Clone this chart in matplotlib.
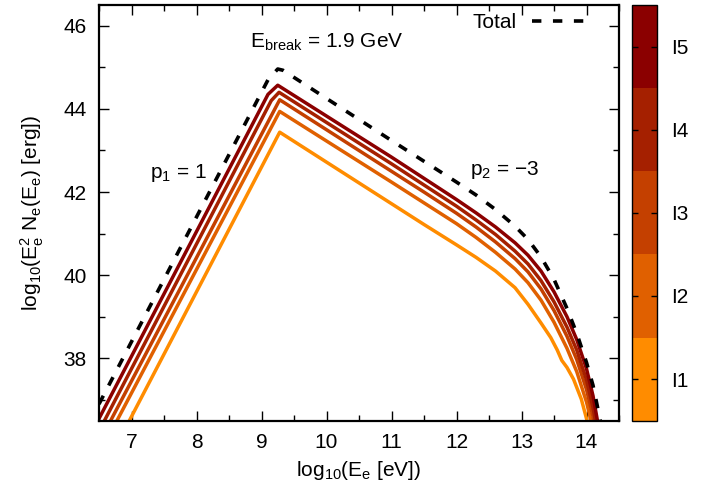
import matplotlib
matplotlib.use("Agg")
import matplotlib.pyplot as plt
from matplotlib.colors import ListedColormap, BoundaryNorm
from matplotlib.cm import ScalarMappable
from matplotlib.ticker import MultipleLocator

plt.rcParams['font.family'] = ['Liberation Sans', 'DejaVu Sans']
plt.rcParams['mathtext.default'] = 'regular'
plt.rcParams['font.size'] = 15

# ---- data ----
series_names = ['I1', 'I2', 'I3', 'I4', 'I5']
series_colors = ['#ff8c00', '#e06000', '#c44000', '#a52000', '#8b0000']

x_I5 = [6.5, 9.1, 9.25, 11.0, 11.5, 12.0, 12.3, 12.6, 12.9, 13.1, 13.3, 13.5, 13.7, 13.85, 14.0, 14.1, 14.18]
y_I5 = [36.55, 44.35, 44.57, 42.84, 42.33, 41.82, 41.5, 41.16, 40.78, 40.48, 40.1, 39.6, 39.0, 38.45, 37.75, 37.1, 36.4]

x_I4 = [6.5, 9.15, 9.27, 11.0, 11.5, 12.0, 12.3, 12.6, 12.9, 13.1, 13.3, 13.5, 13.7, 13.85, 14.0, 14.1, 14.17]
y_I4 = [36.25, 44.2, 44.40, 42.68, 42.17, 41.66, 41.33, 40.98, 40.58, 40.27, 39.87, 39.36, 38.75, 38.2, 37.48, 36.82, 36.2]

x_I3 = [6.5, 9.28, 11.0, 11.5, 12.0, 12.3, 12.6, 12.9, 13.1, 13.3, 13.5, 13.7, 13.85, 14.0, 14.1, 14.16]
y_I3 = [35.97, 44.22, 42.5, 42.0, 41.49, 41.16, 40.8, 40.4, 40.08, 39.67, 39.15, 38.53, 37.97, 37.25, 36.6, 36.1]

x_I2 = [6.5, 9.28, 11.0, 11.5, 12.0, 12.3, 12.6, 12.9, 13.1, 13.3, 13.5, 13.7, 13.85, 14.0, 14.1]
y_I2 = [35.68, 43.94, 42.24, 41.74, 41.24, 40.91, 40.55, 40.15, 39.82, 39.4, 38.87, 38.24, 37.68, 36.95, 36.3]

x_I1 = [6.5, 9.28, 11.0, 11.5, 12.0, 12.3, 12.6, 12.9, 13.1, 13.3, 13.45, 13.55, 13.62, 13.7, 13.8, 13.92, 14.0, 14.05]
y_I1 = [35.1, 43.44, 41.72, 41.22, 40.73, 40.43, 40.1, 39.7, 39.3, 38.85, 38.5, 38.2, 37.95, 37.78, 37.5, 37.02, 36.55, 36.2]

x_total = [6.5, 9.1, 9.25, 9.33, 11.0, 11.5, 12.0, 12.3, 12.6, 12.9, 13.1, 13.3, 13.5, 13.7, 13.85, 14.0, 14.1, 14.2, 14.25]
y_total = [36.9, 44.7, 44.96, 44.93, 43.24, 42.74, 42.24, 41.93, 41.58, 41.18, 40.86, 40.44, 39.9, 39.2, 38.6, 37.9, 37.35, 36.6, 36.2]

xs = [x_I1, x_I2, x_I3, x_I4, x_I5]
ys = [y_I1, y_I2, y_I3, y_I4, y_I5]

# ---- figure ----
fig = plt.figure(figsize=(7.13, 4.93), dpi=100)
ax = fig.add_axes([99/713, 1-420.7/493, 520/713, 415.7/493])
cax = fig.add_axes([631.7/713, 1-420.7/493, 25.6/713, 415.7/493])

for x, y, c in zip(xs, ys, series_colors):
    ax.plot(x, y, color=c, lw=2.5, solid_joinstyle='round')

ax.plot(x_total, y_total, color='black', lw=2.6, dashes=(2.6, 3.2),
        dash_capstyle='butt', label='Total')

ax.set_xlim(6.5, 14.5)
ax.set_ylim(36.5, 46.5)
ax.xaxis.set_major_locator(MultipleLocator(1))
ax.xaxis.set_minor_locator(MultipleLocator(0.5))
ax.yaxis.set_major_locator(MultipleLocator(2))
ax.yaxis.set_minor_locator(MultipleLocator(1))
ax.tick_params(which='both', direction='in', top=True, right=True, width=1.0,
               labelsize=15, pad=9)
ax.tick_params(which='major', length=7)
ax.tick_params(which='minor', length=4)
for s in ax.spines.values():
    s.set_linewidth(1.6)

ax.set_xlabel('log$_{10}$(E$_e$ [eV])', fontsize=15, labelpad=5)
ax.set_ylabel('log$_{10}$(E$_e^2$ N$_e$(E$_e$) [erg])', fontsize=15, labelpad=12)

ax.text(8.82, 45.59, 'E$_{break}$ = 1.9 GeV', fontsize=15, va='center', ha='left')
ax.text(7.28, 42.47, 'p$_1$ = 1', fontsize=15, va='center', ha='left')
ax.text(12.2, 42.52, 'p$_2$ = \u22123', fontsize=15, va='center', ha='left')

leg = ax.legend(loc='upper right', bbox_to_anchor=(0.944, 0.98), frameon=False,
                markerfirst=False, handlelength=2.8, handletextpad=0.7,
                borderaxespad=0, borderpad=0, fontsize=15)

# ---- colorbar ----
cmap = ListedColormap(series_colors)
norm = BoundaryNorm([0.5, 1.5, 2.5, 3.5, 4.5, 5.5], cmap.N)
cb = fig.colorbar(ScalarMappable(norm=norm, cmap=cmap), cax=cax,
                  ticks=[1, 2, 3, 4, 5])
cb.set_ticklabels(series_names)
cb.outline.set_linewidth(1.0)
cax.tick_params(which='both', direction='in', left=True, right=True,
                length=4, width=1.0, labelsize=15, pad=10)
cax.minorticks_off()

fig.savefig('out.png', dpi=100)
